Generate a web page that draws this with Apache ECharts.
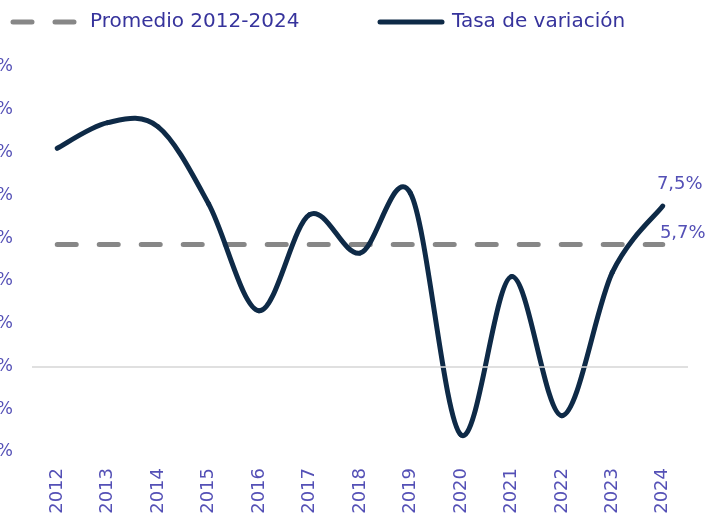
<!DOCTYPE html>
<html>
<head>
<meta charset="utf-8">
<script src="https://cdn.jsdelivr.net/npm/echarts@6/dist/echarts.min.js"></script>
<style>
  html, body { margin: 0; padding: 0; background: #fff; }
  #chart { width: 707px; height: 531px; }
</style>
</head>
<body>
<div id="chart"></div>
<script>
const years = ['2012', '2013', '2014', '2015', '2016', '2017', '2018', '2019', '2020', '2021', '2022', '2023', '2024'];
const tasa = [10.2, 11.4, 11.2, 7.6, 2.6, 7.1, 5.3, 8.1, -3.2, 4.2, -2.3, 4.4, 7.5];
const promedio = [5.7, 5.7, 5.7, 5.7, 5.7, 5.7, 5.7, 5.7, 5.7, 5.7, 5.7, 5.7, 5.7];

const font = '"DejaVu Sans", sans-serif';
const labelColor = '#5450b6';
const legendColor = '#36339c';
const navy = '#0e2a47';
const grey = '#878787';

const fmt = v => String(v).replace('.', ',') + '%';

const chart = echarts.init(document.getElementById('chart'));

// smooth curve: one Catmull-Rom segment per point, from point i to i+1
function renderTasa(params, api) {
  const i = params.dataIndex;
  const n = tasa.length;
  const pt = k => {
    const j = Math.max(0, Math.min(n - 1, k));
    return api.coord([j, tasa[j]]);
  };
  const children = [];
  if (i < n - 1) {
    const p0 = pt(i - 1), p1 = pt(i), p2 = pt(i + 1), p3 = pt(i + 2);
    const c1 = [p1[0] + (p2[0] - p0[0]) / 6, p1[1] + (p2[1] - p0[1]) / 6];
    const c2 = [p2[0] - (p3[0] - p1[0]) / 6, p2[1] - (p3[1] - p1[1]) / 6];
    children.push({
      type: 'bezierCurve',
      shape: { x1: p1[0], y1: p1[1], x2: p2[0], y2: p2[1], cpx1: c1[0], cpy1: c1[1], cpx2: c2[0], cpy2: c2[1] },
      style: { stroke: navy, lineWidth: 5, fill: null, lineCap: 'round' }
    });
  } else {
    const p = pt(i);
    children.push({
      type: 'text',
      x: p[0] + 17, y: p[1] - 22,
      style: { text: fmt(tasa[i]), fill: labelColor, font: '18px ' + font, align: 'center', verticalAlign: 'middle' }
    });
  }
  return { type: 'group', children: children };
}

const option = {
  animation: false,
  legend: [
    {
      left: 5.5, top: 7,
      data: ['Promedio 2012-2024'],
      itemWidth: 72, itemHeight: 12,
      itemStyle: { opacity: 0 },
      lineStyle: { color: grey, width: 5, type: [19, 23], cap: 'round' },
      textStyle: { color: legendColor, fontFamily: font, fontSize: 20 }
    },
    {
      left: 372.5, top: 7,
      data: [{ name: 'Tasa de variación', icon: 'path://M2.5,0H64.5A2.5,2.5,0,0,1,64.5,5H2.5A2.5,2.5,0,0,1,2.5,0Z' }],
      itemWidth: 72, itemHeight: 5,
      itemStyle: { color: navy },
      textStyle: { color: legendColor, fontFamily: font, fontSize: 20 }
    }
  ],
  grid: { left: 32, right: 19, top: 67, bottom: 79, containLabel: false, outerBoundsMode: 'none' },
  xAxis: {
    type: 'category',
    data: years,
    axisLine: { show: false },
    axisTick: { show: false },
    axisLabel: { rotate: 90, margin: 16, color: labelColor, fontFamily: font, fontSize: 18 }
  },
  yAxis: {
    type: 'value',
    min: -4, max: 14, interval: 2,
    axisLine: { show: false },
    axisTick: { show: false },
    splitLine: { show: false },
    axisLabel: { margin: 19, color: labelColor, fontFamily: font, fontSize: 17, formatter: '{value}%' }
  },
  series: [
    {
      name: 'Promedio 2012-2024',
      type: 'line',
      data: promedio.map((v, i) => i === promedio.length - 1
        ? { value: v, label: { show: true, position: 'top', offset: [20, 3], formatter: p => fmt(p.value), color: labelColor, fontFamily: font, fontSize: 18 } }
        : v),
      symbol: 'circle',
      symbolSize: 0.1,
      showSymbol: true,
      lineStyle: { color: grey, width: 5, type: [19, 23], cap: 'round' },
      itemStyle: { color: grey },
      markLine: {
        silent: true,
        symbol: 'none',
        label: { show: false },
        lineStyle: { color: '#d6d6d6', width: 1.5, type: 'solid' },
        data: [{ yAxis: 0 }]
      },
      z: 2
    },
    {
      name: 'Tasa de variación',
      type: 'custom',
      coordinateSystem: 'cartesian2d',
      data: tasa.map((v, i) => [i, v]),
      encode: { x: 0, y: 1 },
      itemStyle: { color: navy },
      renderItem: renderTasa,
      clip: false,
      z: 3
    }
  ]
};

chart.setOption(option);
window.addEventListener('resize', () => chart.resize());
</script>
</body>
</html>
